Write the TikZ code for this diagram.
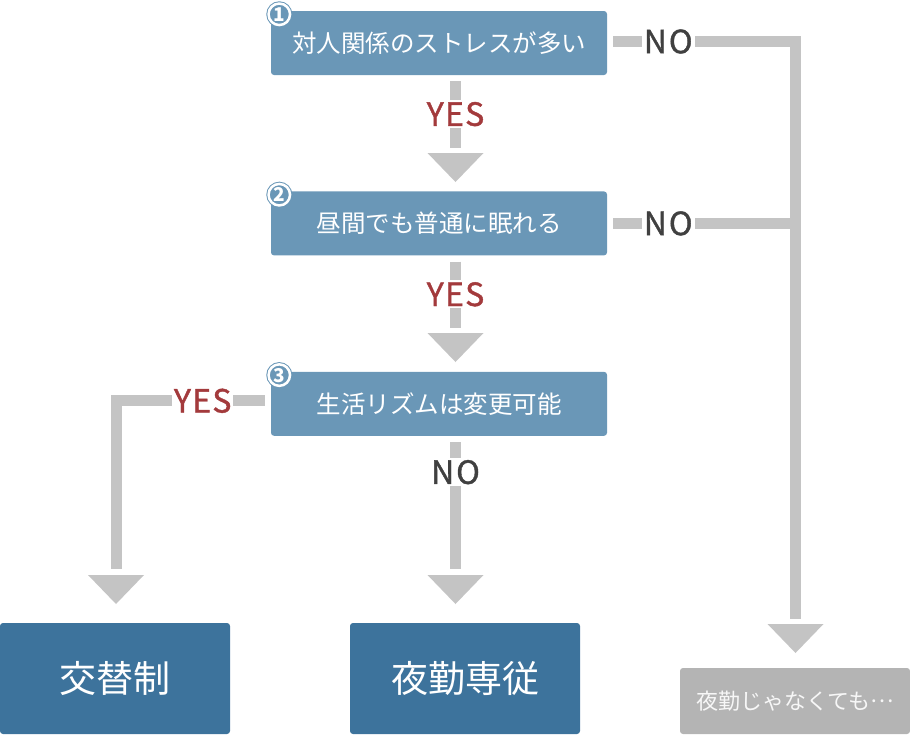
\documentclass[tikz,border=0pt]{standalone}
\usepackage{fontspec}
\setmainfont{Noto Sans CJK JP}
\usetikzlibrary{calc,positioning}
\definecolor{qblue}{HTML}{6A97B7}
\definecolor{rblue}{HTML}{3D739C}
\definecolor{linegray}{HTML}{C4C4C4}
\definecolor{boxgray}{HTML}{B4B4B4}
\definecolor{yesred}{HTML}{A33A3C}
\definecolor{nogray}{HTML}{404040}
\tikzset{
    question/.style = {
        fill = qblue,
        text = white,
        rounded corners = 3pt,
        minimum width = 336pt,
        minimum height = 64pt,
        font = \fontsize{24.5}{28}\selectfont,
        },
    result/.style = {
        fill = rblue,
        text = white,
        rounded corners = 3pt,
        minimum width = 230pt,
        minimum height = 111pt,
        font = \fontsize{37}{42}\selectfont,
        },
    other/.style = {
        fill = boxgray,
        text = white!94!gray,
        rounded corners = 3pt,
        minimum width = 230pt,
        minimum height = 66pt,
        font = \fontsize{22}{26}\selectfont,
        },
    num/.style = {
        circle,
        fill = qblue,
        draw = qblue,
        line width = 1pt,
        double = white,
        double distance = 2.5pt,
        minimum size = 21.5pt,
        inner sep = 0pt,
        text = white,
        font = \fontsize{19}{19}\selectfont\bfseries,
        },
    flow/.style = {
        draw = linegray,
        line width = 11pt,
        shorten <= 6pt,
        },
    yes/.style = {
        text = yesred,
        fill = white,
        inner sep = 2pt,
        font = \fontsize{32}{32}\selectfont\addfontfeatures{FakeBold=1.2,LetterSpace=4},
        },
    no/.style = {
        text = nogray,
        fill = white,
        inner sep = 2pt,
        font = \fontsize{32}{32}\selectfont\addfontfeatures{FakeBold=1.2,LetterSpace=6},
        },
    tip/.pic = {
        \fill[linegray] (-28,0) -- (28,0) -- (0,29) -- cycle;
        },
}

\begin{document}
\begin{tikzpicture}[x=1pt, y=-1pt]
    \useasboundingbox (0,0) rectangle (910,734);

    % questions
    \node[question] (q1) at (439,43) {対人関係のストレスが多い};
    \node[question, below=116pt of q1] (q2) {昼間でも普通に眠れる};
    \node[question, below=116pt of q2] (q3) {生活リズムは変更可能};
    \node[num] (n1) at ($(q1.north west)+(8.5,3.5)$) {1};
    \node[num] (n2) at ($(q2.north west)+(8.5,3.5)$) {2};
    \node[num] (n3) at ($(q3.north west)+(8.5,3.5)$) {3};

    % answers
    \node[result] (r1) at (115,678.5) {交替制};
    \node[result] (r2) at (465,678.5) {夜勤専従};
    \node[other] (r3) at (795,701) {夜勤じゃなくても\raisebox{0.3em}{…}};

    % arrow heads
    \coordinate (t1) at (455.5,153);
    \coordinate (t2) at (455.5,333);
    \coordinate (t3) at (116,575);
    \coordinate (t4) at (455.5,575);
    \coordinate (t5) at (795.5,624);
    \foreach \t in {t1,t2,t3,t4,t5}
        \pic at (\t) {tip};

    \draw[flow, shorten >=5pt] (q1.south -| t1) -- node[yes] {YES} (t1);
    \draw[flow, shorten >=5pt] (q2.south -| t2) -- node[yes] {YES} (t2);
    \draw[flow, shorten >=6pt] ([yshift=3pt]q3.west) -| node[yes, pos=0.22] {YES} (t3);
    \draw[flow, shorten >=6pt] (q3.south -| t4) -- node[no, pos=0.26] {NO} (t4);
    \draw[flow, shorten >=5pt] ([yshift=1.5pt]q1.east) -| node[no, pos=0.162] {NO} (t5);
    \draw[flow] (q2.east) -- node[no, pos=0.324] {NO} (q2.east -| t5);
\end{tikzpicture}
\end{document}
